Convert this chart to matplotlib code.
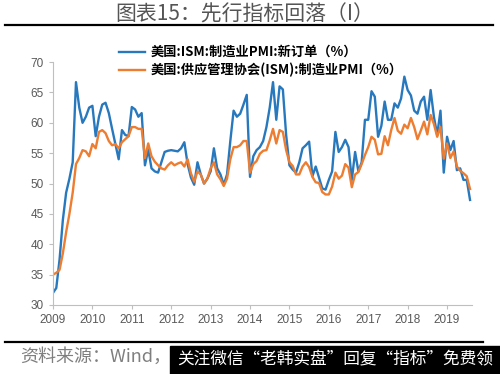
import matplotlib
matplotlib.use('Agg')
import matplotlib.pyplot as plt
from matplotlib.patches import Rectangle
from matplotlib.lines import Line2D

plt.rcParams['font.family'] = ['Noto Sans CJK SC', 'DejaVu Sans']

# monthly data, Jan 2009 - Aug 2019
new_orders = [
    32.0, 32.8, 37.5, 44.0, 48.5, 50.8, 53.5, 66.7, 62.5, 60.0, 61.0, 62.5,  # 2009
    62.8, 57.8, 61.0, 63.0, 63.3, 61.6, 59.0, 56.5, 54.0, 58.8, 58.0, 57.8,  # 2010
    62.6, 62.2, 61.0, 61.6, 53.0, 55.6, 52.5, 52.0, 51.8, 53.5, 55.2, 55.4,  # 2011
    55.5, 55.4, 55.3, 55.8, 56.8, 53.2, 51.0, 49.8, 53.5, 51.5, 50.0, 50.8,  # 2012
    52.0, 55.8, 52.5, 51.5, 49.8, 51.5, 57.0, 62.0, 61.0, 61.5, 63.0, 64.6,  # 2013
    51.1, 54.5, 55.5, 56.0, 57.0, 59.3, 62.5, 66.7, 60.5, 66.0, 65.5, 58.0,  # 2014
    53.0, 52.3, 51.8, 53.5, 55.8, 56.3, 56.9, 51.2, 52.8, 51.0, 49.2, 49.0,  # 2015
    50.6, 52.0, 58.5, 55.2, 56.0, 57.2, 56.0, 50.6, 55.2, 52.0, 53.5, 60.5,  # 2016
    60.5, 65.2, 64.3, 57.7, 59.5, 63.5, 60.5, 60.5, 63.2, 62.5, 64.0, 67.6,  # 2017
    65.4, 64.5, 62.0, 61.5, 63.5, 64.3, 60.5, 65.4, 61.0, 58.0, 62.0, 51.8,  # 2018
    57.7, 55.5, 57.0, 52.2, 52.5, 50.6, 50.6, 47.3,                          # 2019
]
pmi = [
    35.0, 35.3, 35.8, 38.5, 42.0, 45.0, 48.5, 53.2, 54.2, 55.5, 55.3, 54.5,  # 2009
    56.5, 55.8, 58.5, 58.8, 58.3, 57.0, 56.3, 56.5, 55.8, 56.8, 57.3, 57.8,  # 2010
    59.3, 59.3, 59.0, 59.0, 54.2, 56.6, 54.5, 53.6, 53.0, 52.5, 52.3, 53.0,  # 2011
    53.5, 53.0, 53.3, 53.5, 52.8, 54.0, 51.7, 50.3, 52.0, 51.5, 50.0, 50.8,  # 2012
    52.5, 53.5, 51.5, 50.7, 49.6, 50.8, 54.0, 56.0, 56.0, 56.3, 57.0, 57.0,  # 2013
    51.8, 53.2, 53.7, 54.9, 55.4, 55.5, 57.1, 59.0, 56.6, 58.8, 58.5, 55.5,  # 2014
    53.5, 52.9, 51.5, 51.5, 52.8, 53.5, 52.7, 51.1, 50.2, 50.1, 48.6, 48.2,  # 2015
    48.2, 49.5, 51.8, 50.8, 51.3, 53.2, 52.6, 49.4, 51.5, 51.9, 53.2, 54.7,  # 2016
    56.0, 57.7, 57.2, 54.8, 54.9, 57.8, 56.3, 58.8, 60.8, 58.7, 58.2, 59.7,  # 2017
    59.1, 60.8, 59.3, 57.3, 58.7, 60.2, 58.1, 61.3, 59.8, 57.7, 59.3, 54.1,  # 2018
    56.6, 54.2, 55.3, 52.8, 52.1, 51.7, 51.2, 49.1,                          # 2019
]
years = [2009, 2010, 2011, 2012, 2013, 2014, 2015, 2016, 2017, 2018, 2019]
labels = ['美国:ISM:制造业PMI:新订单（%）', '美国:供应管理协会(ISM):制造业PMI（%）']

blue = '#2878bd'
orange = '#ed7d31'
grey = '#595959'

fig = plt.figure(figsize=(5, 3.74), dpi=100)
ax = fig.add_axes([0.106, 0.1845, 0.838, 0.6495])

months = list(range(len(pmi)))
ax.plot(months, new_orders, color=blue, lw=1.7, label=labels[0])
ax.plot(months, pmi, color=orange, lw=1.7, label=labels[1])

ax.set_ylim(30, 70)
ax.set_xlim(0, 127.6)
ax.set_yticks(range(30, 71, 5))
ax.set_xticks([12 * i for i in range(len(years))])
ax.set_xticklabels([str(y) for y in years])
for s in ['top', 'right']:
    ax.spines[s].set_visible(False)
for s in ['left', 'bottom']:
    ax.spines[s].set_color('#bfbfbf')
    ax.spines[s].set_linewidth(0.8)
ax.tick_params(colors='#bfbfbf', labelcolor=grey, length=3, width=0.8)
for t in ax.get_xticklabels() + ax.get_yticklabels():
    t.set_family('Liberation Sans')
    t.set_fontsize(8.5)

fig.legend(loc='upper left', bbox_to_anchor=(0.224, 0.897), frameon=False,
           prop={'size': 9.5, 'weight': 'bold'}, handlelength=2.0,
           handletextpad=0.4, labelspacing=0.3, borderpad=0)

# title and rules
fig.text(0.49, 0.962, '图表15：先行指标回落（I）', ha='center', va='center',
         fontsize=15, color='#555555')
fig.add_artist(Line2D([0.01, 0.986], [0.933, 0.933], color='black', lw=1.6))
fig.add_artist(Line2D([0.01, 0.966], [0.086, 0.086], color='black', lw=1.6))

fig.text(0.04, 0.045, '资料来源：Wind，', ha='left', va='center',
         fontsize=13, color='#7f7f7f', style='italic')
fig.add_artist(Rectangle((0.34, 0), 0.66, 0.075, transform=fig.transFigure,
                         color='black'))
fig.text(0.67, 0.037, '关注微信“老韩实盘”回复“指标”免费领', ha='center',
         va='center', fontsize=12, color='white')

fig.savefig('out.png', dpi=100)
